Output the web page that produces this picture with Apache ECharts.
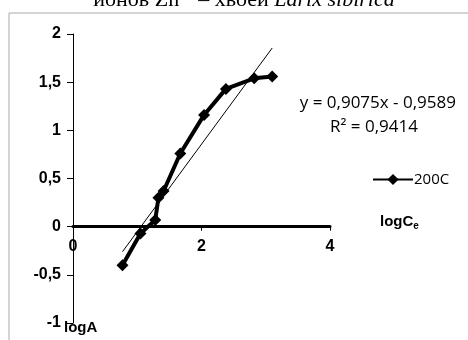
<!DOCTYPE html>
<html>
<head>
<meta charset="utf-8">
<script src="https://cdn.jsdelivr.net/npm/echarts@6/dist/echarts.min.js"></script>
<style>
  html, body { margin: 0; padding: 0; background: #fff; }
  #chart { width: 468px; height: 340px; }
</style>
</head>
<body>
<div id="chart"></div>
<script>
// logC_e vs logA, series "200C"
const logC = [0.77, 1.05, 1.28, 1.33, 1.41, 1.67, 2.04, 2.38, 2.82, 3.10];
const logA = [-0.40, -0.07, 0.07, 0.30, 0.37, 0.76, 1.16, 1.43, 1.54, 1.56];
const seriesName = "200C";
// linear trendline as printed on the chart
const slope = 0.9075;
const intercept = -0.9589;
const rSquared = "0,9414";

const comma = (v) => String(v).replace(".", ",");

const points = logC.map((x, i) => [x, logA[i]]);
const xMin = Math.min(...logC);
const xMax = Math.max(...logC);
const trend = [xMin, xMax].map((x) => [x, slope * x + intercept]);

const chart = echarts.init(document.getElementById("chart"));

chart.setOption({
  animation: false,
  backgroundColor: "#fff",
  grid: { left: 73, right: 138, top: 34, bottom: 17, outerBoundsMode: "none" },
  xAxis: {
    type: "value",
    min: 0,
    max: 4,
    interval: 2,
    axisLine: { onZero: false, lineStyle: { color: "#000", width: 3 } },
    axisTick: { show: true, length: 4, lineStyle: { color: "#000", width: 1 } },
    axisLabel: {
      color: "#000",
      fontFamily: "Liberation Sans",
      fontWeight: "bold",
      fontSize: 16,
      margin: 12,
      formatter: (v) => comma(v),
    },
    splitLine: { show: false },
  },
  yAxis: {
    type: "value",
    min: -1,
    max: 2,
    interval: 0.5,
    axisLine: { show: true, onZero: false, lineStyle: { color: "#000", width: 1 } },
    axisTick: { show: true, length: 6, lineStyle: { color: "#000" } },
    axisLabel: {
      color: "#000",
      fontFamily: "Liberation Sans",
      fontWeight: "bold",
      fontSize: 16,
      margin: 12,
      formatter: (v) => comma(v),
    },
    splitLine: { show: false },
  },
  legend: {
    data: [seriesName],
    left: 367,
    top: 167,
    itemWidth: 40,
    itemHeight: 14,
    itemGap: 4,
    textStyle: { color: "#000", fontFamily: "Open Sans", fontSize: 15, padding: [0, 0, 0, -4] },
  },
  series: [
    {
      name: seriesName,
      type: "line",
      data: points,
      symbol: "diamond",
      symbolSize: 12,
      lineStyle: { color: "#000", width: 4 },
      itemStyle: { color: "#000" },
      z: 3,
    },
    {
      name: "trend",
      type: "line",
      data: trend,
      symbol: "none",
      lineStyle: { color: "#000", width: 1 },
      silent: true,
      z: 2,
    },
  ],
  graphic: [
    {
      type: "rect",
      shape: { x: 9, y: 13, width: 470, height: 340 },
      style: { fill: null, stroke: "#aaa", lineWidth: 1 },
      silent: true,
    },
    {
      type: "text",
      style: {
        x: 244,
        y: 11,
        text: "{n|ионов Zn²⁺ – хвоей }{i|Larix sibirica}",
        align: "center",
        verticalAlign: "bottom",
        rich: {
          n: { fontFamily: "Liberation Serif", fontSize: 22, fill: "#000" },
          i: { fontFamily: "Liberation Serif", fontSize: 22, fontStyle: "italic", fill: "#000" },
        },
      },
    },
    {
      type: "text",
      style: {
        x: 456,
        y: 103,
        text: "y = " + comma(slope) + "x - " + comma(-intercept),
        align: "right",
        verticalAlign: "middle",
        fontFamily: "Open Sans",
        fontSize: 17,
        fill: "#000",
      },
    },
    {
      type: "text",
      style: {
        x: 374,
        y: 127,
        text: "R² = " + rSquared,
        align: "center",
        verticalAlign: "middle",
        fontFamily: "Open Sans",
        fontSize: 17,
        fill: "#000",
      },
    },
    {
      type: "text",
      style: {
        x: 380,
        y: 222,
        text: "{b|logC}{s|e}",
        verticalAlign: "middle",
        rich: {
          b: { fontFamily: "Liberation Sans", fontWeight: "bold", fontSize: 15, fill: "#000" },
          s: { fontFamily: "Liberation Sans", fontWeight: "bold", fontSize: 10, fill: "#000", padding: [8, 0, 0, 0] },
        },
      },
    },
    {
      type: "text",
      style: {
        x: 64,
        y: 328,
        text: "logA",
        verticalAlign: "middle",
        fontFamily: "Liberation Sans",
        fontWeight: "bold",
        fontSize: 15,
        fill: "#000",
      },
    },
  ],
});

// move the x axis (line, ticks and labels) up to logA = 0
const yZero = chart.convertToPixel({ yAxisIndex: 0 }, 0);
const yBottom = chart.convertToPixel({ yAxisIndex: 0 }, -1);
chart.setOption({ xAxis: { offset: -(yBottom - yZero) } });
</script>
</body>
</html>
